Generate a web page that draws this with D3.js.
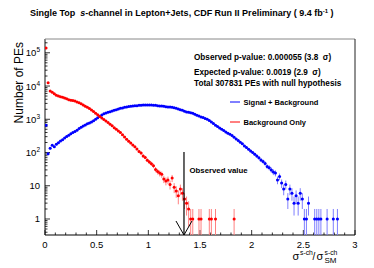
<!DOCTYPE html>
<html lang="en">
<head>
  <meta charset="UTF-8">
  <script src="https://d3js.org/d3.v7.min.js"></script>
  <style>
    body { margin: 0; background: white; }
    text { font-family: "Liberation Sans", Arial, sans-serif; white-space: pre; }
  </style>
</head>
<body>
  <div id="my_dataviz"></div>
  <script>
    // histogram bins: width 0.02, first bin centre 0.01
    const binWidth = 0.02;
    const bgCounts = [140000, 12500, 7100, 6500, 5900, 5300, 5000, 4800, 4600, 4350,
      4150, 3900, 3750, 3640, 3520, 3300, 3120, 2920, 2700, 2460,
      2290, 2110, 1890, 1710, 1510, 1360, 1220, 1100, 990, 885,
      800, 705, 635, 560, 505, 445, 398, 342, 293, 251,
      218, 192, 168, 148, 127, 108, 96, 79, 71, 59,
      52, 46, 40, 31, 27, 24, 22, 16, 14, 15,
      11, 17, 9, 7, 5, 8, 6, 4, 3, 2,
      1, 1, 0, 0, 1, 1, 0, 0, 0, 1,
      1, 0, 1, 0, 0, 0, 0, 0, 0, 0,
      0, 1];
    const sbCounts = [660, 92, 135, 165, 150, 178, 198, 222, 243, 272,
      305, 328, 368, 398, 432, 468, 528, 571, 633, 672,
      728, 770, 835, 905, 1004, 1118, 1226, 1352, 1475, 1548,
      1625, 1697, 1783, 1858, 1951, 2036, 2142, 2185, 2290, 2338,
      2405, 2447, 2512, 2566, 2574, 2628, 2641, 2687, 2679, 2702,
      2695, 2688, 2634, 2620, 2571, 2513, 2518, 2452, 2401, 2344,
      2338, 2290, 2235, 2139, 2042, 1951, 1862, 1740, 1660, 1622,
      1585, 1513, 1412, 1318, 1259, 1175, 1122, 1047, 1000, 912,
      832, 741, 661, 603, 550, 501, 457, 417, 380, 355,
      324, 288, 257, 229, 204, 182, 158, 141, 126, 112,
      100, 89, 78, 69, 60, 54, 47, 38, 35, 30,
      26, 24, 15, 19, 12, 8, 11, 4, 8, 6,
      3, 5, 3, 6, 4, 1, 1, 3, 0, 0,
      1, 1, 1, 1, 0, 0, 1, 0, 0, 1,
      0, 1];
    const xTicks = [0, 0.5, 1, 1.5, 2, 2.5, 3];
    const yTicks = [1, 10, 100, 1000, 10000, 100000];
    const observedValue = 1.345;
    const infoLines = ["Observed p-value: 0.000055 (3.8  \u03c3)",
      "Expected p-value: 0.0019 (2.9  \u03c3)",
      "Total 307831 PEs with null hypothesis"];
    const legendKeys = ["Signal + Background", "Background Only"];
    const colors = { "Signal + Background": "#0000ff", "Background Only": "#ff0000" };
    const errColors = { "Signal + Background": "#7f7fff", "Background Only": "#ff8080" };

    const W = 374, H = 268;
    const L = 45, R = 355, T = 39, B = 235;

    const svg = d3.select("#my_dataviz").append("svg")
      .attr("width", W).attr("height", H);

    const x = d3.scaleLinear().domain([0, 3]).range([L, R]);
    const y = d3.scaleLog().domain([0.33, 2.6e5]).range([B, T]);

    svg.append("clipPath").attr("id", "clip")
      .append("rect").attr("x", L).attr("y", T).attr("width", R - L).attr("height", B - T);

    // title
    const title = svg.append("text").attr("x", 30).attr("y", 16)
      .attr("font-size", 9).attr("font-weight", 700);
    title.append("tspan").text("Single Top  ");
    title.append("tspan").attr("font-style", "italic").text("s");
    title.append("tspan").text("-channel in Lepton+Jets, CDF Run II Preliminary ( 9.4 fb");
    title.append("tspan").attr("font-size", 6).attr("dy", -3.5).text("-1");
    title.append("tspan").attr("dy", 3.5).text(" )");

    // frame
    svg.append("line").attr("x1", L).attr("x2", R).attr("y1", T).attr("y2", T).attr("stroke", "#888");
    svg.append("line").attr("x1", R).attr("x2", R).attr("y1", T).attr("y2", B).attr("stroke", "#222");
    svg.append("line").attr("x1", L).attr("x2", L).attr("y1", T).attr("y2", B).attr("stroke", "#888").attr("stroke-width", 2);
    svg.append("line").attr("x1", L).attr("x2", R).attr("y1", B).attr("y2", B).attr("stroke", "#000");

    // x ticks
    const xMinor = d3.range(0, 31).map(d => d / 10);
    svg.append("g").selectAll("line").data(xMinor).enter().append("line")
      .attr("x1", d => x(d)).attr("x2", d => x(d))
      .attr("y1", B).attr("y2", d => xTicks.some(t => Math.abs(t - d) < 1e-6) ? B - 5 : B - 2.5)
      .attr("stroke", "#000").attr("stroke-width", 0.8);
    svg.append("g").selectAll("text").data(xTicks).enter().append("text")
      .attr("x", d => x(d)).attr("y", 248)
      .attr("text-anchor", "middle").attr("font-size", 9.5)
      .text(d => d);

    // y ticks
    const yMinor = [];
    [0.1, 1, 10, 100, 1000, 10000, 100000].forEach(dec => {
      for (let k = 2; k <= 9; k++) yMinor.push(dec * k);
    });
    svg.append("g").selectAll("line").data(yMinor.filter(d => d >= 0.33 && d <= 2.6e5)).enter().append("line")
      .attr("x1", L).attr("x2", L + 2.5)
      .attr("y1", d => y(d)).attr("y2", d => y(d))
      .attr("stroke", "#000").attr("stroke-width", 0.8);
    svg.append("g").selectAll("line").data(yTicks).enter().append("line")
      .attr("x1", L).attr("x2", L + 5)
      .attr("y1", d => y(d)).attr("y2", d => y(d))
      .attr("stroke", "#000").attr("stroke-width", 0.8);
    const yl = svg.append("g").selectAll("text").data(yTicks).enter().append("text")
      .attr("x", 40).attr("y", d => y(d) + 3.5)
      .attr("text-anchor", "end").attr("font-size", 9.5);
    yl.each(function(d) {
      const t = d3.select(this);
      if (d < 100) { t.text(d); return; }
      t.append("tspan").text("10");
      t.append("tspan").attr("font-size", 6.5).attr("dy", -4).text(Math.round(Math.log10(d)));
    });

    // axis titles
    svg.append("text").attr("transform", "translate(23,42) rotate(-90)")
      .attr("text-anchor", "end").attr("font-size", 12).text("Number of PEs");
    const xt = svg.append("g").attr("font-size", 11);
    xt.append("text").attr("x", 292.5).attr("y", 260).text("\u03c3");
    xt.append("text").attr("x", 300).attr("y", 254.5).attr("font-size", 6.8).text("s-ch");
    xt.append("text").attr("x", 312.5).attr("y", 260).attr("font-size", 10).text("/");
    xt.append("text").attr("x", 316.5).attr("y", 260).text("\u03c3");
    xt.append("text").attr("x", 324.5).attr("y", 254.5).attr("font-size", 6.8).text("s-ch");
    xt.append("text").attr("x", 324.5).attr("y", 263).attr("font-size", 8).text("SM");

    // histograms
    const series = [
      { key: "Signal + Background", counts: sbCounts },
      { key: "Background Only", counts: bgCounts }
    ];
    const plot = svg.append("g").attr("clip-path", "url(#clip)");
    series.forEach(s => {
      const pts = s.counts.map((n, i) => ({ v: 0.01 + i * binWidth, n: n })).filter(d => d.n > 0);
      const g = plot.append("g");
      g.selectAll(".err").data(pts).enter().append("line")
        .attr("x1", d => x(d.v)).attr("x2", d => x(d.v))
        .attr("y1", d => y(Math.max(d.n - Math.sqrt(d.n), 0.2)))
        .attr("y2", d => y(d.n + Math.sqrt(d.n)))
        .attr("stroke", errColors[s.key]).attr("stroke-width", 1);
      g.selectAll(".herr").data(pts).enter().append("line")
        .attr("x1", d => x(d.v - binWidth / 2)).attr("x2", d => x(d.v + binWidth / 2))
        .attr("y1", d => y(d.n)).attr("y2", d => y(d.n))
        .attr("stroke", colors[s.key]).attr("stroke-width", 1);
      g.selectAll("circle").data(pts).enter().append("circle")
        .attr("cx", d => x(d.v)).attr("cy", d => y(d.n)).attr("r", 1.5)
        .attr("fill", colors[s.key]);
    });

    // info text
    svg.append("g").selectAll("text").data(infoLines).enter().append("text")
      .attr("x", 194).attr("y", (d, i) => [59.5, 74.5, 86][i])
      .attr("font-size", 8.2).attr("font-weight", 700).text(d => d);

    // legend
    const lg = svg.append("g").selectAll("g").data(legendKeys).enter().append("g")
      .attr("transform", (d, i) => `translate(0,${102 + i * 20})`);
    lg.append("line").attr("x1", 230).attr("x2", 240).attr("y1", 0).attr("y2", 0)
      .attr("stroke", d => colors[d]).attr("stroke-width", 1);
    lg.append("text").attr("x", 243.5).attr("y", 2.5)
      .attr("font-size", 7.5).attr("font-weight", 700).text(d => d);

    // observed value arrow
    const ox = x(observedValue);
    svg.append("line").attr("x1", ox).attr("x2", ox).attr("y1", 152).attr("y2", B)
      .attr("stroke", "#000").attr("stroke-width", 1.2);
    svg.append("path").attr("d", `M${ox - 8},${B - 14}L${ox},${B}L${ox + 8},${B - 14}`)
      .attr("fill", "none").attr("stroke", "#000").attr("stroke-width", 1);
    svg.append("text").attr("x", 189.5).attr("y", 172.5)
      .attr("font-size", 7.8).attr("font-weight", 700).text("Observed value");
  </script>
</body>
</html>
